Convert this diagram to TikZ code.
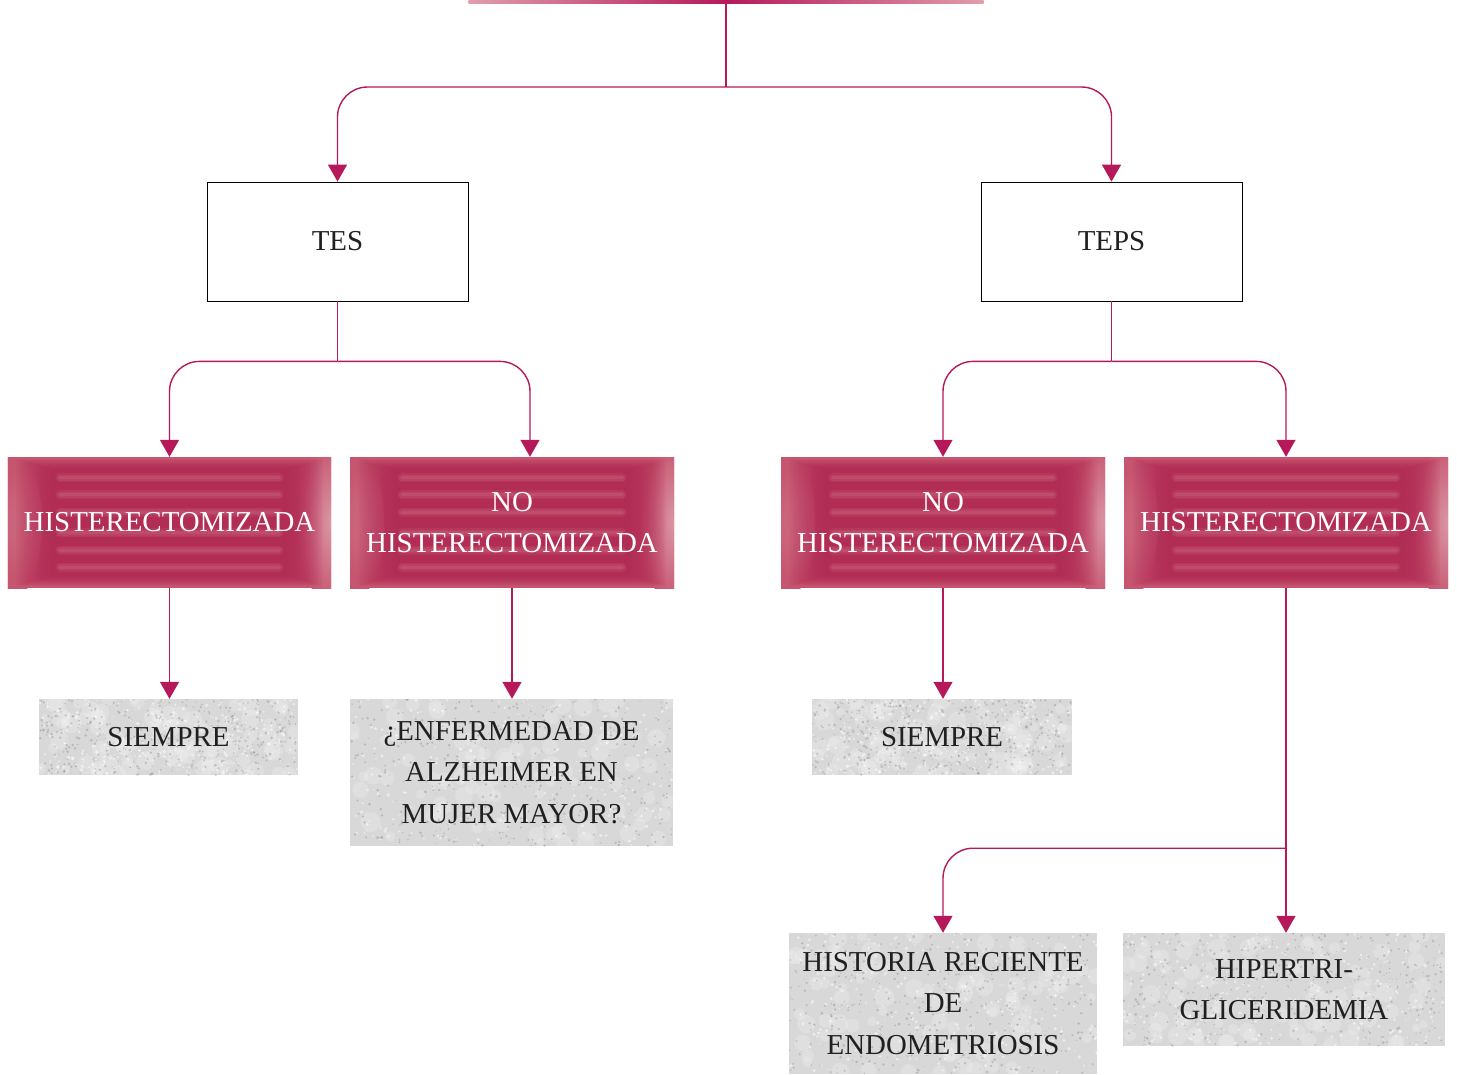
\documentclass[tikz,border=0pt]{standalone}
\usepackage{fontspec}
\setmainfont{Liberation Serif}
\usetikzlibrary{arrows.meta,calc}

\definecolor{crim}{RGB}{181,25,90}
\definecolor{crimpale}{RGB}{224,158,172}
\definecolor{rosebase}{RGB}{198,86,112}
\definecolor{rosedark}{RGB}{178,38,84}
\definecolor{roselight}{RGB}{208,108,132}
\definecolor{roseedge}{RGB}{218,150,164}
\definecolor{stone}{RGB}{216,216,216}
\definecolor{ink}{RGB}{32,32,32}

\pgfmathsetseed{4711}

% banded magenta fill of the coloured boxes
\newcommand\rosetexture{%
  \fill[inner color=roseedge,outer color=rosebase]
    (path picture bounding box.west) ellipse[x radius=34bp,y radius=80bp];
  \fill[inner color=roseedge,outer color=rosebase]
    (path picture bounding box.east) ellipse[x radius=34bp,y radius=80bp];
  \foreach \m in {8,10,...,44}{%
    \fill[rosedark,opacity=.075]
      ([xshift=\m bp,yshift=-0.28*\m bp]path picture bounding box.north west) rectangle
      ([xshift=-\m bp,yshift=0.28*\m bp]path picture bounding box.south east);
  }
  \foreach \f in {0.16,0.29,0.42,0.58,0.71,0.84}{%
    \foreach \w/\o in {9/.16,6/.2,3/.28}{%
      \draw[roselight,line width=\w bp,opacity=\o,line cap=round]
        ($(path picture bounding box.north west)!\f!(path picture bounding box.south west)+(52,0)$) --
        ($(path picture bounding box.north east)!\f!(path picture bounding box.south east)+(-52,0)$);
    }%
  }%
}

% speckled grey fill of the answer boxes
\newcommand\stonetexture{%
  \foreach \i in {1,...,90}{%
    \pgfmathsetmacro\rx{rnd}\pgfmathsetmacro\ry{rnd}\pgfmathsetmacro\rs{4+6*rnd}%
    \fill[white,opacity=.18]
      let \p1=(path picture bounding box.north west),
          \p2=(path picture bounding box.south east) in
      (\x1+\rx*\x2-\rx*\x1,\y1+\ry*\y2-\ry*\y1) circle[radius=\rs bp];
  }%
  \foreach \i in {1,...,300}{%
    \pgfmathsetmacro\rx{rnd}\pgfmathsetmacro\ry{rnd}\pgfmathsetmacro\rs{0.6+1.2*rnd}%
    \fill[white,opacity=.5]
      let \p1=(path picture bounding box.north west),
          \p2=(path picture bounding box.south east) in
      (\x1+\rx*\x2-\rx*\x1,\y1+\ry*\y2-\ry*\y1) circle[radius=\rs bp];
  }%
  \foreach \i in {1,...,420}{%
    \pgfmathsetmacro\rx{rnd}\pgfmathsetmacro\ry{rnd}\pgfmathsetmacro\rs{0.5+1.0*rnd}%
    \fill[black!45,opacity=.4]
      let \p1=(path picture bounding box.north west),
          \p2=(path picture bounding box.south east) in
      (\x1+\rx*\x2-\rx*\x1,\y1+\ry*\y2-\ry*\y1) circle[radius=\rs bp];
  }%
}

\begin{document}
\begin{tikzpicture}[x=1bp,y=-1bp,
  link/.style={draw=crim,line width=1.4bp},
  tip/.style={-{Triangle[width=19bp,length=17bp]}},
  arrowlink/.style={link,tip,rounded corners=30bp},
  label/.style={font=\fontsize{29}{41.5}\selectfont,align=center,inner sep=0pt},
  framebox/.style={label,draw=black,line width=0.8bp,fill=white,
    minimum width=261bp,minimum height=119bp,text=ink},
  rosebox/.style={label,text=white,fill=rosebase,minimum width=324bp,
    minimum height=131bp,path picture={\rosetexture}},
  stonebox/.style={label,text=ink,fill=stone,path picture={\stonetexture}},
]
\useasboundingbox (0,0) rectangle (1457,1074);

% top bar
\node[inner sep=0pt,minimum width=515bp,minimum height=3bp,
      left color=crimpale,right color=crimpale,middle color=crim] (bar) at (726,1.5) {};

% first level
\node[framebox] (tes)  at (337.5,241.5) {TES};
\node[framebox] (teps) at (1111.5,241.5) {TEPS};

% second level
\node[rosebox,minimum width=323bp] (h1) at (169.5,522.5) {HISTERECTOMIZADA};
\node[rosebox] (nh1) at (512,522.5) {NO\\HISTERECTOMIZADA};
\node[rosebox] (nh2) at (943,522.5) {NO\\HISTERECTOMIZADA};
\node[rosebox] (h2)  at (1286,522.5) {HISTERECTOMIZADA};

% answers
\node[stonebox,minimum width=259bp,minimum height=76bp] (s1)  at (168.5,737) {SIEMPRE};
\node[stonebox,minimum width=323bp,minimum height=147bp] (alz) at (511.5,772.5)
  {¿ENFERMEDAD DE\\ALZHEIMER EN\\MUJER MAYOR?};
\node[stonebox,minimum width=260bp,minimum height=76bp] (s2)  at (942,737) {SIEMPRE};
\node[stonebox,minimum width=308bp,minimum height=141bp] (hist) at (943,1003.5)
  {HISTORIA RECIENTE\\DE\\ENDOMETRIOSIS};
\node[stonebox,minimum width=322bp,minimum height=113bp] (hip) at (1284,989.5)
  {HIPERTRI-\\GLICERIDEMIA};

% connectors
\coordinate (j0) at (bar.south |- 0,87);
\draw[link] (bar.south) -- (j0);
\draw[arrowlink] (j0) -| (tes.north);
\draw[arrowlink] (j0) -| (teps.north);

\coordinate (j1) at ($(tes.south)+(0,60)$);
\draw[link] (tes.south) -- (j1);
\draw[arrowlink] (j1) -| (h1.north);
\draw[arrowlink] (j1) -| ([xshift=18bp]nh1.north);

\coordinate (j2) at ($(teps.south)+(0,60)$);
\draw[link] (teps.south) -- (j2);
\draw[arrowlink] (j2) -| (nh2.north);
\draw[arrowlink] (j2) -| (h2.north);

\draw[link,tip] (h1.south) -- (h1.south |- s1.north);
\draw[link,tip] (nh1.south) -- (nh1.south |- alz.north);
\draw[link,tip] (nh2.south) -- (nh2.south |- s2.north);

\coordinate (j3) at ($(h2.south)+(0,260)$);
\draw[link,tip] (h2.south) -- (h2.south |- hip.north);
\draw[arrowlink] (j3) -| (hist.north);
\end{tikzpicture}
\end{document}
